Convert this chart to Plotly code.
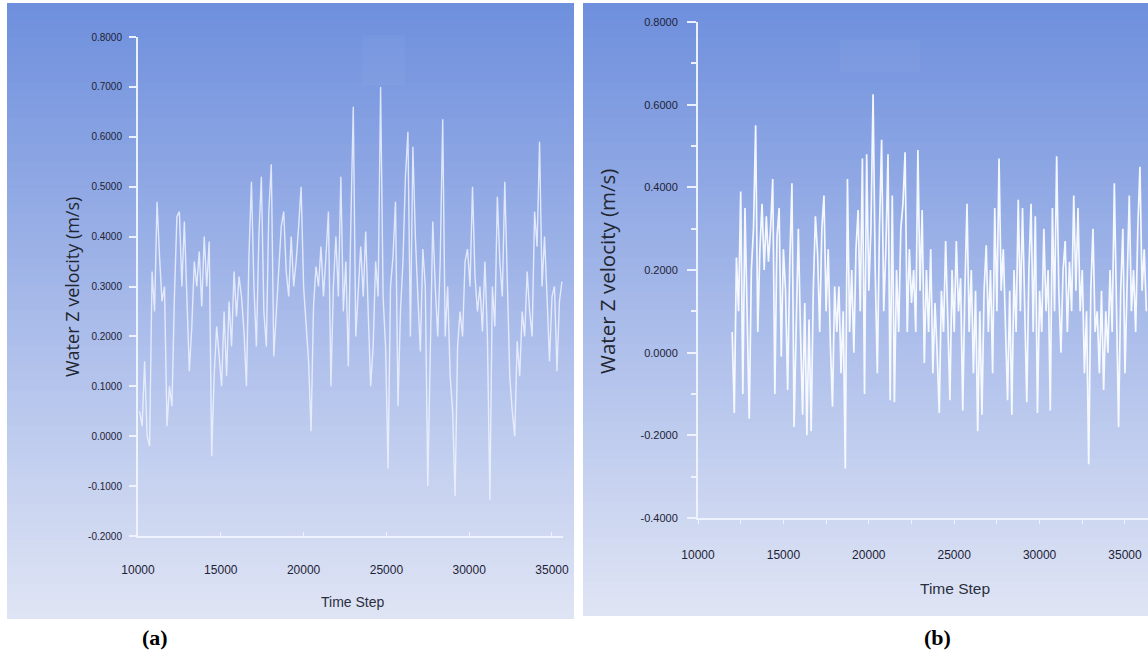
import plotly.graph_objects as go

# ---------------- data ----------------
# (a) water Z velocity, sampled every 150 time steps
steps_a = list(range(10100, 35601, 150))
vel_a = [
    0.05, 0.02, 0.15, 0.00, -0.02, 0.33, 0.25, 0.47, 0.36, 0.27,
    0.30, 0.02, 0.10, 0.06, 0.28, 0.44, 0.45, 0.30, 0.43, 0.28,
    0.13, 0.22, 0.35, 0.30, 0.37, 0.26, 0.40, 0.30, 0.39, -0.04,
    0.12, 0.22, 0.15, 0.10, 0.25, 0.12, 0.27, 0.18, 0.33, 0.24,
    0.32, 0.28, 0.21, 0.10, 0.36, 0.51, 0.30, 0.18, 0.40, 0.52,
    0.25, 0.18, 0.45, 0.545, 0.16, 0.25, 0.35, 0.42, 0.45, 0.33,
    0.28, 0.40, 0.30, 0.35, 0.42, 0.50, 0.30, 0.22, 0.15, 0.01,
    0.26, 0.34, 0.30, 0.38, 0.28, 0.36, 0.45, 0.10, 0.30, 0.40,
    0.28, 0.52, 0.25, 0.35, 0.14, 0.42, 0.66, 0.20, 0.30, 0.38,
    0.28, 0.41, 0.25, 0.10, 0.18, 0.35, 0.28, 0.70, 0.28, 0.18,
    -0.065, 0.30, 0.36, 0.47, 0.06, 0.25, 0.35, 0.52, 0.61, 0.20,
    0.58, 0.40, 0.28, 0.17, 0.375, 0.30, -0.10, 0.20, 0.43, 0.30,
    0.20, 0.35, 0.635, 0.20, 0.30, 0.12, 0.05, -0.12, 0.18, 0.25,
    0.20, 0.35, 0.375, 0.30, 0.50, 0.32, 0.25, 0.30, 0.21, 0.35,
    0.20, -0.128, 0.30, 0.22, 0.48, 0.35, 0.28, 0.51, 0.30, 0.12,
    0.05, 0.00, 0.19, 0.12, 0.25, 0.20, 0.33, 0.25, 0.20, 0.45,
    0.38, 0.59, 0.30, 0.40, 0.28, 0.15, 0.28, 0.30, 0.13, 0.27,
    0.31,
]

# (b) water Z velocity, sampled every 125 time steps
steps_b = list(range(12000, 36251, 125))
vel_b = [
    0.05, -0.146, 0.23, 0.10, 0.39, -0.10, 0.35, 0.05, -0.16, 0.20,
    0.30, 0.55, 0.05, 0.25, 0.36, 0.20, 0.33, 0.22, 0.30, 0.42,
    -0.10, 0.28, 0.35, -0.01, 0.25, 0.15, -0.09, 0.22, 0.41, -0.18,
    0.10, 0.30, 0.05, -0.15, 0.12, -0.20, 0.08, -0.19, 0.15, 0.33,
    0.24, 0.05, 0.30, 0.38, 0.10, 0.25, 0.02, -0.13, 0.16, 0.05,
    0.16, -0.05, 0.10, -0.28, 0.42, 0.05, 0.20, 0.00, 0.25, 0.345,
    0.10, 0.47, -0.10, 0.48, 0.15, 0.30, 0.625, 0.20, -0.05, 0.30,
    0.515, 0.10, 0.25, 0.48, -0.115, 0.38, -0.12, 0.20, 0.05, 0.30,
    0.36, 0.485, 0.05, 0.25, 0.12, 0.20, 0.05, 0.49, 0.15, 0.345,
    -0.025, 0.20, 0.05, 0.25, -0.05, 0.12, 0.00, -0.146, 0.15, 0.05,
    0.27, 0.10, -0.115, 0.20, 0.05, 0.27, 0.10, 0.18, -0.14, 0.15,
    0.36, 0.05, 0.20, -0.05, 0.15, -0.19, 0.10, -0.15, 0.15, 0.26,
    0.05, 0.20, -0.05, 0.35, 0.10, 0.47, 0.15, 0.25, 0.05, -0.115,
    0.15, -0.15, 0.20, 0.05, 0.37, 0.10, 0.35, 0.15, -0.12, 0.20,
    0.36, 0.05, 0.33, -0.146, 0.15, 0.05, 0.30, 0.10, 0.20, -0.14,
    0.35, 0.10, 0.475, 0.15, 0.00, 0.20, 0.27, 0.05, 0.22, 0.10,
    0.38, 0.15, 0.35, 0.10, 0.20, -0.05, 0.10, -0.27, 0.15, 0.30,
    0.05, 0.10, -0.05, 0.15, -0.09, 0.10, 0.00, 0.20, 0.05, 0.41,
    0.10, -0.18, 0.15, 0.30, -0.05, 0.20, 0.38, 0.10, 0.20, 0.05,
    0.30, 0.45, 0.15, 0.25, 0.10,
]

y_ticks_a = [-0.2, -0.1, 0.0, 0.1, 0.2, 0.3, 0.4, 0.5, 0.6, 0.7, 0.8]
y_ticks_b = [-0.4, -0.2, 0.0, 0.2, 0.4, 0.6, 0.8]
y_minor_b = [-0.3, -0.1, 0.1, 0.3, 0.5, 0.7]
x_ticks = [10000, 15000, 20000, 25000, 30000, 35000]
x_minor_b = [12500, 17500, 22500, 27500, 32500]

# ---------------- layout helpers ----------------
W, H = 1148, 653


def px_x(x):
    return x / W


def px_y(y):
    return 1 - y / H


def fmt(v):
    return f"{v:.4f}"


TOP = (110, 143, 221)
BOTTOM = (224, 229, 245)


def gradient(x0, x1, y0, y1, n=70):
    """Vertical blue-to-pale gradient built from thin horizontal strips."""
    out = []
    step = (y1 - y0) / n
    for k in range(n):
        t = (k + 0.5) / n
        c = tuple(round(TOP[j] + (BOTTOM[j] - TOP[j]) * t) for j in range(3))
        ya = y0 + k * step
        yb = ya + step + 0.8
        out.append(dict(
            type="rect", xref="paper", yref="paper", layer="below",
            x0=px_x(x0), x1=px_x(x1), y0=px_y(min(yb, y1)), y1=px_y(ya),
            fillcolor=f"rgb{c}", line=dict(width=0),
        ))
    return out


shapes = gradient(7, 574, 3, 619) + gradient(583, 1148, 3, 616)
# faint highlight boxes near the top of each panel
shapes += [
    dict(type="rect", xref="paper", yref="paper", layer="below",
         x0=px_x(362), x1=px_x(405), y0=px_y(85), y1=px_y(35),
         fillcolor="rgba(255,255,255,0.03)", line=dict(width=0)),
    dict(type="rect", xref="paper", yref="paper", layer="below",
         x0=px_x(840), x1=px_x(920), y0=px_y(72), y1=px_y(40),
         fillcolor="rgba(255,255,255,0.03)", line=dict(width=0)),
]

AXIS_COL = "rgba(240,244,255,0.95)"
TICK_FONT = "Liberation Sans, Arial, sans-serif"
LABEL_COL = "#1d2236"

fig = go.Figure()

fig.add_trace(go.Scatter(
    x=steps_a, y=vel_a, mode="lines",
    line=dict(color="rgba(238,242,255,0.85)", width=1.4),
    xaxis="x", yaxis="y", showlegend=False, hoverinfo="skip",
))
fig.add_trace(go.Scatter(
    x=steps_b, y=vel_b, mode="lines",
    line=dict(color="rgba(250,252,255,0.95)", width=1.7),
    xaxis="x2", yaxis="y2", showlegend=False, hoverinfo="skip",
))

common = dict(showgrid=False, zeroline=False, showline=True, automargin=False,
              linecolor=AXIS_COL, linewidth=2, fixedrange=True)

fig.update_layout(
    width=W, height=H,
    margin=dict(l=0, r=0, t=0, b=0, pad=0, autoexpand=False),
    paper_bgcolor="white",
    plot_bgcolor="rgba(0,0,0,0)",
    shapes=shapes,
    xaxis=dict(
        domain=[px_x(138), px_x(563)], range=[10000, 35665],
        tickmode="array", tickvals=x_ticks, ticktext=[str(v) for v in x_ticks],
        ticks="inside", ticklen=4, tickcolor=AXIS_COL, tickwidth=1,
        ticklabelstandoff=22,
        tickfont=dict(family=TICK_FONT, size=12, color=LABEL_COL),
        anchor="y", **common,
    ),
    yaxis=dict(
        domain=[px_y(536), px_y(37)], range=[-0.2, 0.8],
        tickmode="array", tickvals=y_ticks_a, ticktext=[fmt(v) for v in y_ticks_a],
        ticks="outside", ticklen=7, tickcolor=AXIS_COL, tickwidth=2,
        ticklabelstandoff=5,
        tickfont=dict(family=TICK_FONT, size=10, color=LABEL_COL),
        anchor="x", **common,
    ),
    xaxis2=dict(
        domain=[px_x(698), 1.0], range=[10000, 36347],
        tickmode="array", tickvals=x_ticks, ticktext=[str(v) for v in x_ticks],
        ticks="outside", ticklen=4, tickcolor=AXIS_COL, tickwidth=1,
        minor=dict(tickmode="array", tickvals=x_minor_b, ticks="outside",
                   ticklen=4, tickcolor=AXIS_COL, tickwidth=1),
        ticklabelstandoff=21,
        tickfont=dict(family=TICK_FONT, size=12, color=LABEL_COL),
        anchor="y2", **common,
    ),
    yaxis2=dict(
        domain=[px_y(518), px_y(22)], range=[-0.4, 0.8],
        tickmode="array", tickvals=y_ticks_b, ticktext=[fmt(v) for v in y_ticks_b],
        ticks="outside", ticklen=9, tickcolor=AXIS_COL, tickwidth=2,
        minor=dict(tickmode="array", tickvals=y_minor_b, ticks="outside",
                   ticklen=5, tickcolor=AXIS_COL, tickwidth=2),
        ticklabelstandoff=7,
        tickfont=dict(family=TICK_FONT, size=11, color=LABEL_COL),
        anchor="x2", **common,
    ),
)

TITLE_FONT = "Open Sans, Noto Sans, sans-serif"
annotations = [
    dict(text="Water Z velocity (m/s)", x=px_x(72), y=px_y(287), textangle=-90,
         font=dict(family=TITLE_FONT, size=18, color="#222630")),
    dict(text="Water Z velocity (m/s)", x=px_x(607), y=px_y(272), textangle=-90,
         font=dict(family=TITLE_FONT, size=20.5, color="#222630")),
    dict(text="Time Step", x=px_x(352), y=px_y(602),
         font=dict(family=TICK_FONT, size=14, color="#2a2f40")),
    dict(text="Time Step", x=px_x(955), y=px_y(588),
         font=dict(family=TICK_FONT, size=15.5, color="#2a2f40")),
    dict(text="<b>(a)</b>", x=px_x(155), y=px_y(637),
         font=dict(family="Liberation Serif, Times New Roman, serif", size=22, color="black")),
    dict(text="<b>(b)</b>", x=px_x(938), y=px_y(637),
         font=dict(family="Liberation Serif, Times New Roman, serif", size=22, color="black")),
]
for a in annotations:
    a.update(xref="paper", yref="paper", showarrow=False, xanchor="center", yanchor="middle")
fig.update_layout(annotations=annotations)

fig.write_html(
    "out.html",
    config={"displayModeBar": False},
    post_script="document.body.style.margin='0';document.documentElement.style.overflow='hidden';",
)
